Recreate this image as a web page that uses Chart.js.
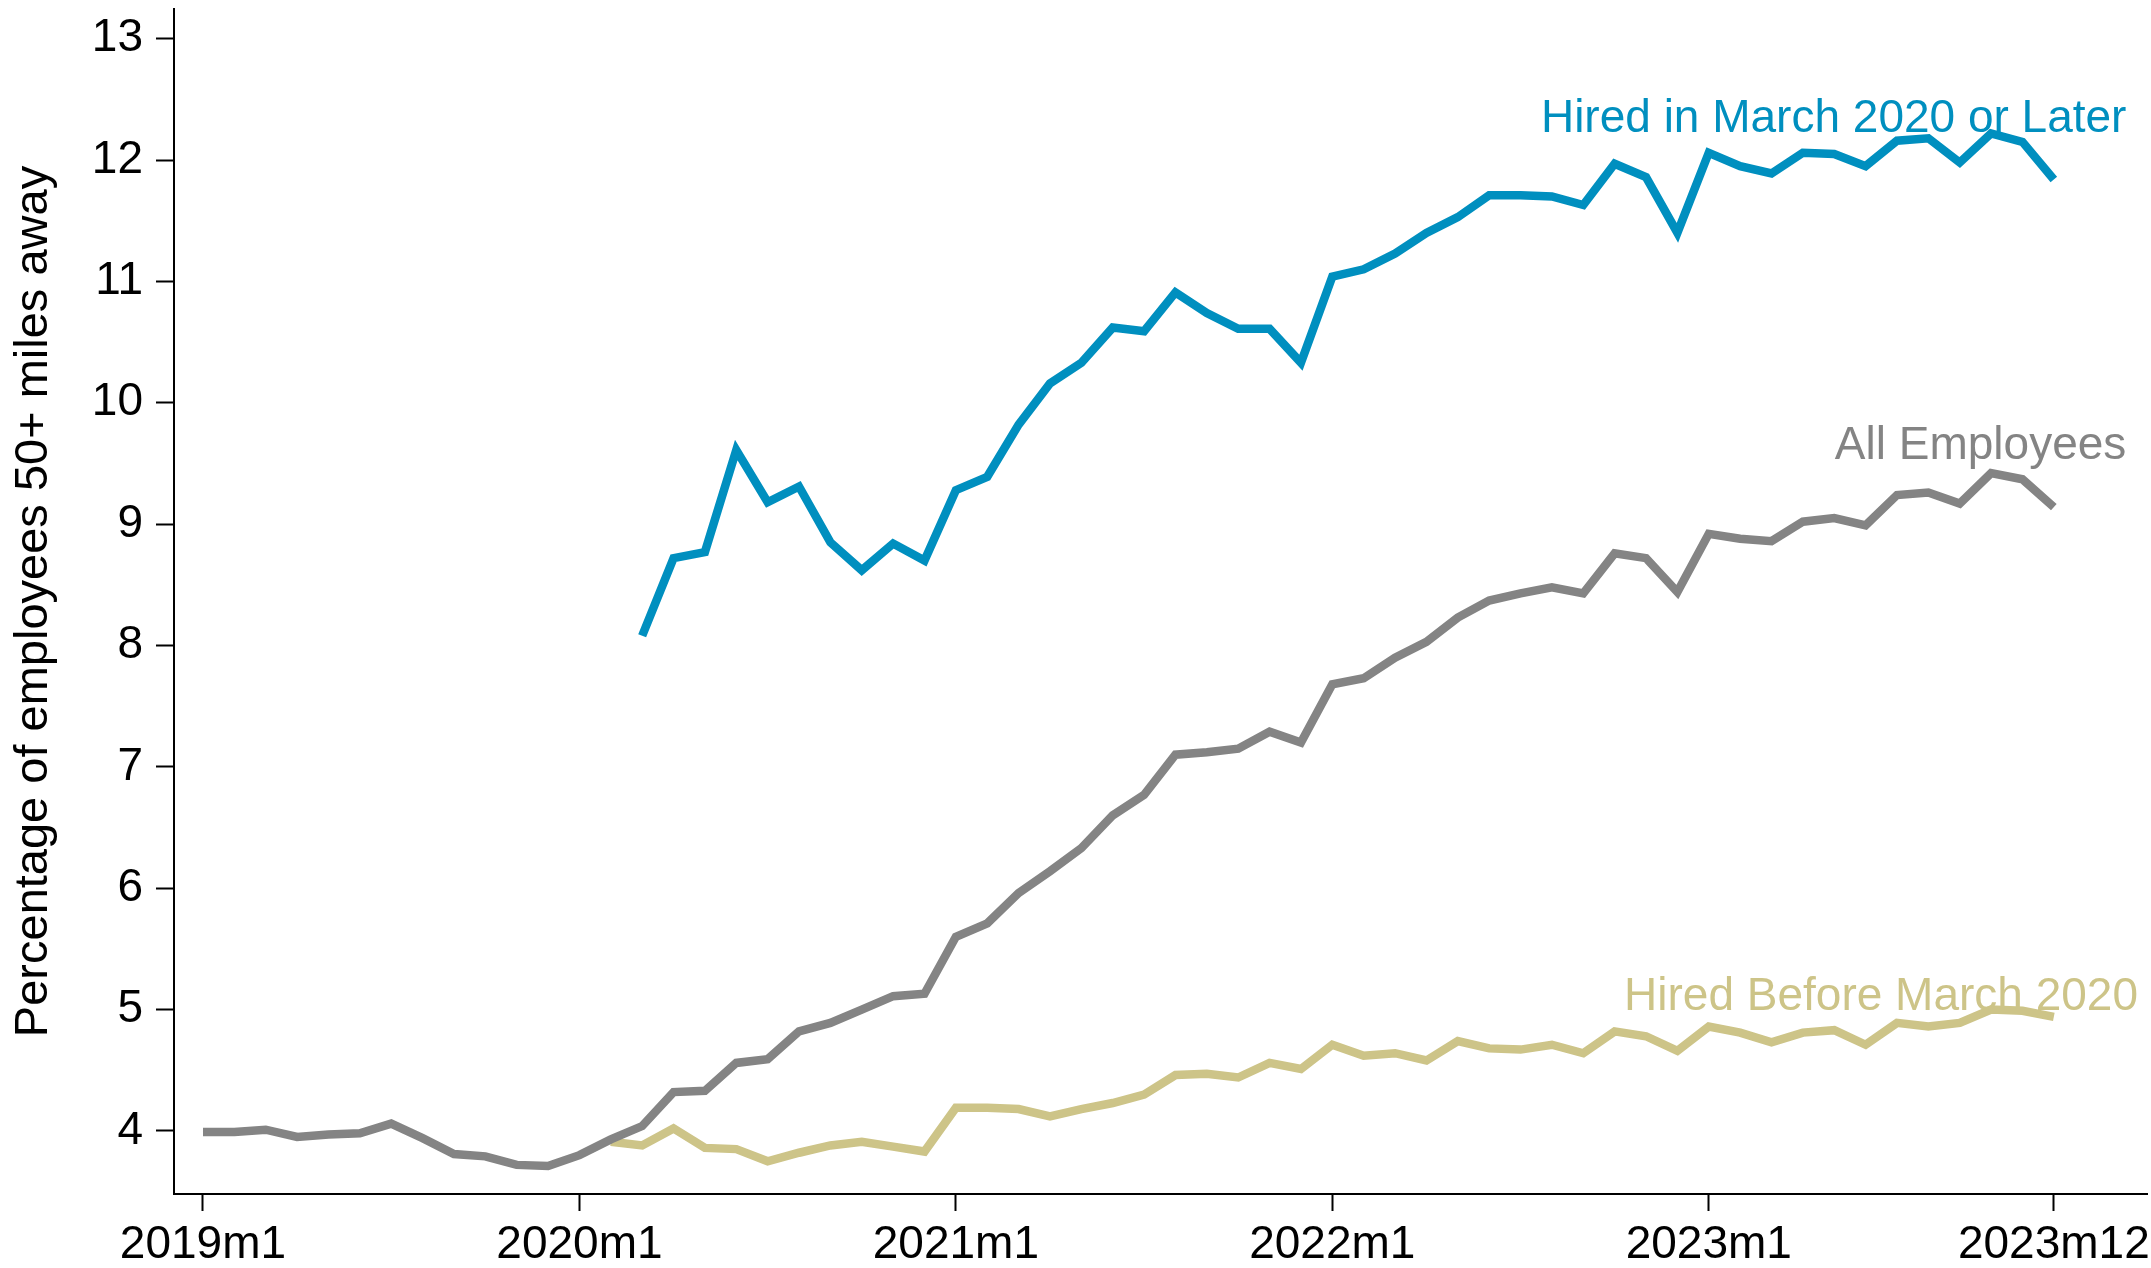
<!DOCTYPE html>
<html>
<head>
<meta charset="utf-8">
<script src="https://cdn.jsdelivr.net/npm/chart.js@4"></script>
<style>
  html, body { margin: 0; padding: 0; background: #fff; }
  canvas { display: block; }
</style>
</head>
<body>
<canvas id="chart" width="2151" height="1268"></canvas>
<script>
// month index 0 = 2019m1 ... 59 = 2023m12
const months = Array.from({ length: 60 }, (_, i) => i);

const tickMonths = [0, 12, 24, 36, 48, 59];
const tickLabels = ['2019m1', '2020m1', '2021m1', '2022m1', '2023m1', '2023m12'];
const yTicks = [4, 5, 6, 7, 8, 9, 10, 11, 12, 13];

const allEmployees = [
  3.99, 3.99, 4.01, 3.95, 3.97, 3.98, 4.06, 3.94, 3.81, 3.79, 3.72, 3.71,
  3.80, 3.93, 4.04, 4.32, 4.33, 4.56, 4.59, 4.82, 4.89, 5.00, 5.11, 5.13,
  5.60, 5.71, 5.96, 6.14, 6.33, 6.60, 6.77, 7.10, 7.12, 7.15, 7.29, 7.20,
  7.68, 7.73, 7.90, 8.03, 8.23, 8.37, 8.43, 8.48, 8.43, 8.76, 8.72, 8.44,
  8.92, 8.88, 8.86, 9.02, 9.05, 8.99, 9.24, 9.26, 9.17, 9.42, 9.37, 9.14
];

const hiredBefore = [
  null, null, null, null, null, null, null, null, null, null, null, null,
  null, 3.91, 3.88, 4.02, 3.86, 3.85, 3.75, 3.82, 3.88, 3.91, 3.87, 3.83,
  4.19, 4.19, 4.18, 4.12, 4.18, 4.23, 4.30, 4.46, 4.47, 4.44, 4.56, 4.51,
  4.71, 4.62, 4.64, 4.58, 4.74, 4.68, 4.67, 4.71, 4.64, 4.82, 4.78, 4.66,
  4.86, 4.81, 4.73, 4.81, 4.83, 4.71, 4.89, 4.86, 4.89, 5.00, 4.99, 4.94
];

const hiredAfter = [
  null, null, null, null, null, null, null, null, null, null, null, null,
  null, null, 8.08, 8.72, 8.77, 9.61, 9.18, 9.31, 8.85, 8.62, 8.84, 8.70,
  9.28, 9.39, 9.82, 10.16, 10.33, 10.62, 10.59, 10.91, 10.74, 10.61, 10.61, 10.33,
  11.04, 11.10, 11.23, 11.40, 11.53, 11.71, 11.71, 11.70, 11.63, 11.97, 11.86, 11.40,
  12.06, 11.95, 11.89, 12.06, 12.05, 11.95, 12.16, 12.18, 11.98, 12.22, 12.15, 11.84
];

const BLUE = '#008fbf';
const GRAY = '#848484';
const GOLD = '#cdc488';
const FONT = '"Liberation Sans", Arial, Helvetica, sans-serif';

function toPoints(values) {
  return months
    .map(i => ({ x: i, y: values[i] }))
    .filter(p => p.y !== null);
}

// text labels next to the lines (left edge / baseline in data units)
const seriesLabels = [
  { text: 'Hired in March 2020 or Later', x: 42.65, y: 12.23, color: BLUE },
  { text: 'All Employees', x: 52.02, y: 9.54, color: GRAY },
  { text: 'Hired Before March 2020', x: 45.3, y: 5.0, color: GOLD }
];

const lineLabelPlugin = {
  id: 'lineLabels',
  afterDatasetsDraw(chart) {
    const ctx = chart.ctx;
    const xs = chart.scales.x;
    const ys = chart.scales.y;
    ctx.save();
    ctx.font = '46px ' + FONT;
    ctx.textAlign = 'left';
    ctx.textBaseline = 'alphabetic';
    seriesLabels.forEach(l => {
      ctx.fillStyle = l.color;
      ctx.fillText(l.text, xs.getPixelForValue(l.x), ys.getPixelForValue(l.y));
    });
    ctx.restore();
  }
};

const lineStyle = {
  borderWidth: 8.5,
  pointRadius: 0,
  pointHoverRadius: 0,
  tension: 0,
  fill: false,
  borderCapStyle: 'butt',
  borderJoinStyle: 'miter'
};

new Chart(document.getElementById('chart'), {
  type: 'line',
  data: {
    datasets: [
      Object.assign({ label: 'All Employees', data: toPoints(allEmployees), borderColor: GRAY, order: 0 }, lineStyle),
      Object.assign({ label: 'Hired Before March 2020', data: toPoints(hiredBefore), borderColor: GOLD, order: 1 }, lineStyle),
      Object.assign({ label: 'Hired in March 2020 or Later', data: toPoints(hiredAfter), borderColor: BLUE, order: 2 }, lineStyle)
    ]
  },
  options: {
    responsive: false,
    animation: false,
    layout: { padding: { top: 9, right: 4, left: 0, bottom: 0 } },
    plugins: {
      legend: { display: false },
      tooltip: { enabled: false }
    },
    scales: {
      x: {
        type: 'linear',
        min: -0.924,
        max: 61.97,
        afterBuildTicks: axis => { axis.ticks = tickMonths.map(v => ({ value: v })); },
        afterFit: axis => {
          axis.height = 74;
          axis.paddingLeft = 0;
          axis.paddingRight = 0;
        },
        grid: { drawOnChartArea: false, drawTicks: true, tickLength: 17, tickWidth: 2, tickColor: '#000' },
        border: { display: true, color: '#000', width: 2 },
        ticks: {
          color: '#000',
          padding: 7,
          maxRotation: 0,
          autoSkip: false,
          font: { family: FONT, size: 46 },
          callback: v => tickLabels[tickMonths.indexOf(v)]
        }
      },
      y: {
        min: 3.48,
        max: 13.245,
        afterBuildTicks: axis => { axis.ticks = yTicks.map(v => ({ value: v })); },
        afterFit: axis => {
          axis.width = 174;
          axis.paddingTop = 0;
          axis.paddingBottom = 0;
        },
        grid: { drawOnChartArea: false, drawTicks: true, tickLength: 18, tickWidth: 2, tickColor: '#000' },
        border: { display: true, color: '#000', width: 2 },
        title: {
          display: true,
          text: 'Percentage of employees 50+ miles away',
          color: '#000',
          font: { family: FONT, size: 47 },
          padding: { top: 6, bottom: 0 }
        },
        ticks: {
          color: '#000',
          padding: 13,
          font: { family: FONT, size: 46 },
          callback: v => String(v)
        }
      }
    }
  },
  plugins: [lineLabelPlugin]
});
</script>
</body>
</html>
